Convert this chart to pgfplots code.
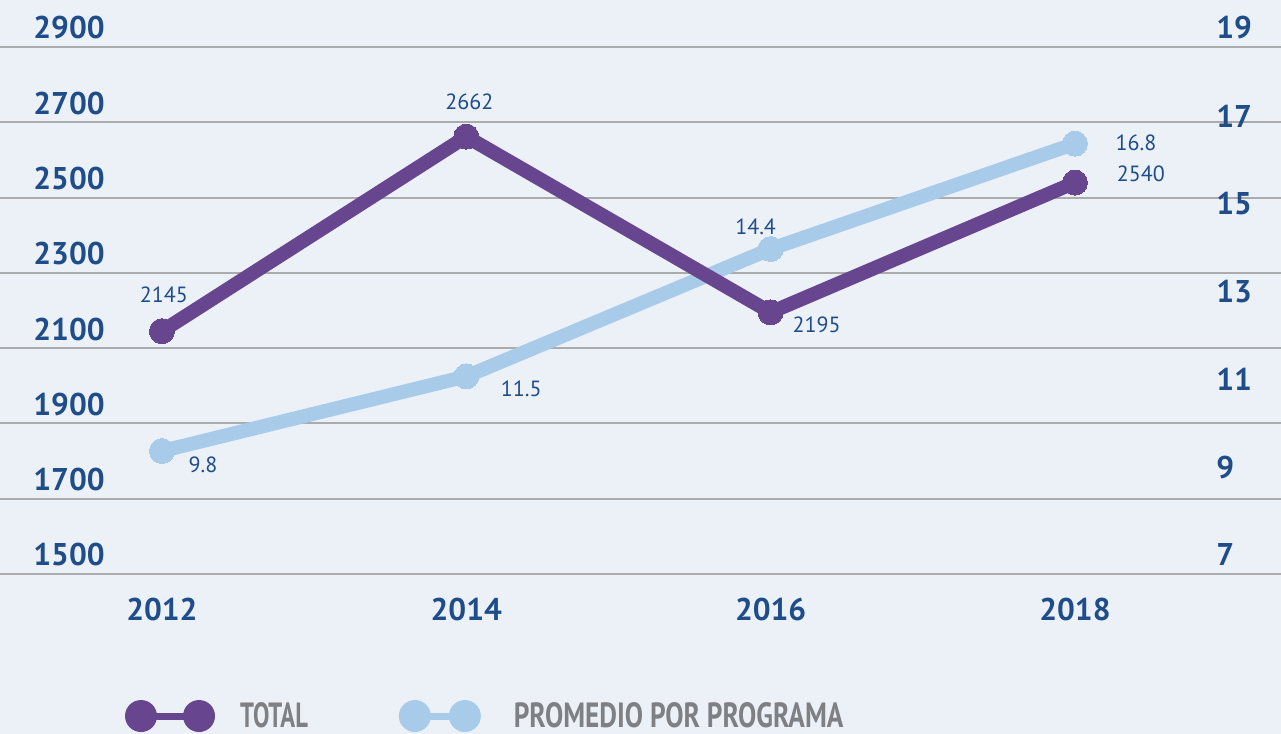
\documentclass[border=0pt]{standalone}
\usepackage{fontspec}
\setmainfont{PT Sans}
\newfontfamily\condfont[FakeStretch=0.70]{PT Sans}
\newfontfamily\condfontb[FakeStretch=0.78]{PT Sans}
\usepackage{pgfplots}
\usepackage{pgfplotstable}
\pgfplotsset{compat=1.18}

\definecolor{bgc}{HTML}{ECF1F8}
\definecolor{gridc}{HTML}{ABABAB}
\definecolor{tpurple}{HTML}{67468F}
\definecolor{lblue}{HTML}{A9CBEA}
\definecolor{labc}{HTML}{1F4D8A}
\definecolor{legc}{HTML}{7F8083}

% x: 0=2012 1=2014 2=2016 3=2018; dx/dy = label offset in pt
\pgfplotstableread{
x y dx dy
0 2145 1 18
1 2662 1.5 17.5
2 2195 23 -6
3 2540 33 4.5
}\totaldata
\pgfplotstableread{
x y dx dy
0 9.8 20.5 -7
1 11.5 27.5 -6
2 14.4 -7.5 11
3 16.8 30.5 0.5
}\promdata

\pgfplotsset{
  base/.style={
    scale only axis, width=640.5pt, height=263.5pt,
    at={(0pt,80pt)}, anchor=south west,
    xmin=-0.532, xmax=3.677,
    axis line style={draw=none}, major tick length=0pt,
    clip=false,
    /pgf/number format/assume math mode=true,
    /pgf/number format/1000 sep={},
    ticklabel style={font=\fontsize{15.7}{18}\selectfont\bfseries, text=labc, inner sep=0pt},
  },
  serie/.style={
    color=#1, line width=7pt, mark=*, mark size=6.25pt,
    mark options={line width=0pt, draw=none, fill=#1},
    point meta=y,
    visualization depends on={\thisrow{dx} \as \dx},
    visualization depends on={\thisrow{dy} \as \dy},
    nodes near coords={\pgfmathprintnumber{\pgfplotspointmeta}},
    nodes near coords style={font=\fontsize{11}{13}\selectfont, text=labc,
      anchor=center, inner sep=0pt, xshift=\dx pt, yshift=\dy pt},
  },
}

\begin{document}
\begin{tikzpicture}
\fill[bgc] (0pt,0pt) rectangle (640.5pt,367pt);
\useasboundingbox (0pt,0pt) rectangle (640.5pt,367pt);

% grid and left scale
\begin{axis}[base,
    ymin=1500, ymax=2900, ytick={1500,1700,...,2900},
    ymajorgrids, grid style={color=gridc, line width=1pt},
    xtick={0,1,2,3}, xticklabels={2012,2014,2016,2018},
    yticklabel style={anchor=west, xshift=16.5pt, yshift=9.5pt},
    xticklabel style={anchor=center, yshift=-18pt},
]
\end{axis}

% promedio por programa (right scale)
\begin{axis}[base,
    ymin=7, ymax=19, ytick={7,9,...,19}, xtick=\empty,
    yticklabel pos=right,
    yticklabel style={anchor=west, xshift=-32.5pt, yshift=9.5pt},
]
\addplot[serie=lblue] table[x=x, y=y] {\promdata};
\end{axis}

% total (left scale)
\begin{axis}[base,
    ymin=1500, ymax=2900, ytick=\empty, xtick=\empty,
    legend columns=2,
    legend style={at={(0.0976,-0.2695)}, anchor=west, draw=none, fill=none,
      inner sep=0pt, outer sep=0pt, nodes={inner sep=0pt},
      font=\condfont\bfseries\fontsize{17.5}{20}\selectfont, text=legc,
      /tikz/every odd column/.append style={column sep=12.5pt},
      /tikz/every even column/.append style={column sep=45.5pt}},
]
\addplot[serie=tpurple,
  legend image code/.code={
    \draw[tpurple, line width=3.5pt] (0pt,0pt) -- (29pt,0pt);
    \path[fill=tpurple, draw=none, line width=0pt] (0pt,0pt) circle (8pt) (29pt,0pt) circle (8pt);}
  ] table[x=x, y=y] {\totaldata};
\addlegendentry{TOTAL}
\addlegendimage{legend image code/.code={
    \draw[lblue, line width=3.5pt] (0pt,0pt) -- (25pt,0pt);
    \path[fill=lblue, draw=none, line width=0pt] (0pt,0pt) circle (8pt) (25pt,0pt) circle (8pt);}}
\addlegendentry{\hspace{4pt}{\condfontb\bfseries PROMEDIO POR PROGRAMA}}
\end{axis}
\end{tikzpicture}
\end{document}
